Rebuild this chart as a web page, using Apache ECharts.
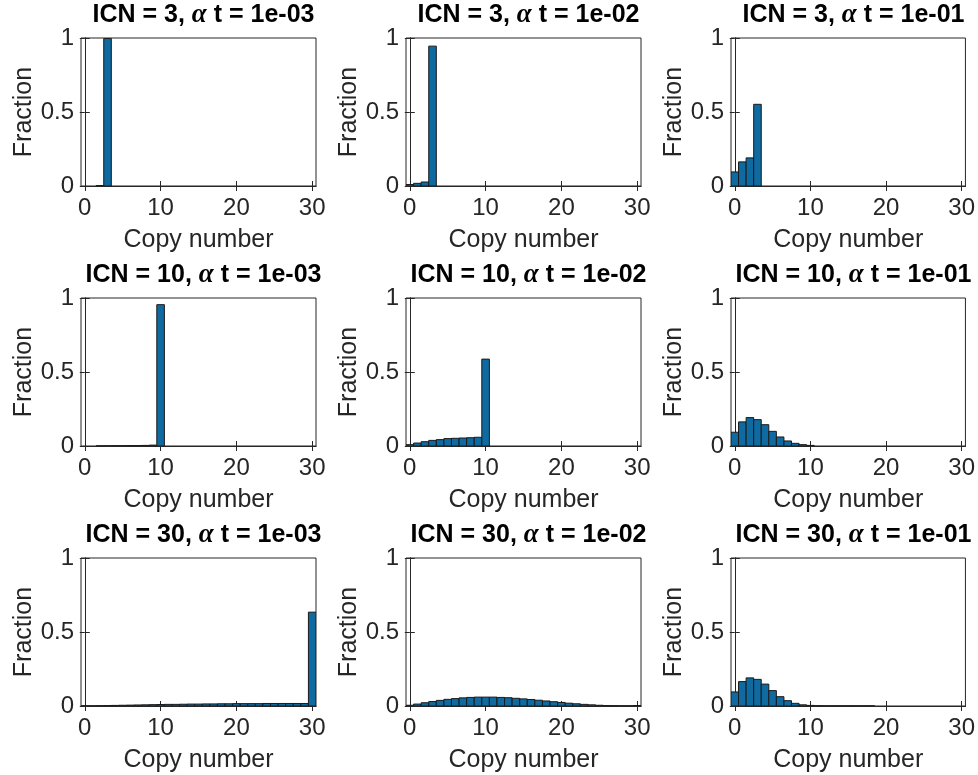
<!DOCTYPE html>
<html>
<head>
<meta charset="utf-8">
<script src="https://cdn.jsdelivr.net/npm/echarts@6/dist/echarts.min.js"></script>
<style>
  html, body { margin: 0; padding: 0; background: #fff; }
  #chart { width: 978px; height: 775px; }
</style>
</head>
<body>
<div id="chart"></div>
<script>
// copy number ticks and panel labels
const xTicks = [0, 10, 20, 30];
const yTicks = [0, 0.5, 1];
const icnValues = [3, 10, 30];
const alphaTLabels = ['1e-03', '1e-02', '1e-01'];

// fraction per copy number (index = copy number)
const icn3At3 = [0, 0, 0.003, 0.997];
const icn3At2 = [0.01, 0.018, 0.027, 0.945];
const icn3At1 = [0.095, 0.163, 0.19, 0.552];

const icn10At3 = [0, 0, 0.001, 0.001, 0.002, 0.002, 0.003, 0.003, 0.004, 0.006, 0.955];
const icn10At2 = [0.009, 0.02, 0.029, 0.038, 0.043, 0.05, 0.052, 0.054, 0.056, 0.059, 0.587];
const icn10At1 = [0.093, 0.163, 0.192, 0.178, 0.144, 0.099, 0.061, 0.034, 0.018, 0.009, 0.004];

const icn30At3 = [0.001, 0.001, 0.002, 0.003, 0.004, 0.005, 0.006, 0.007, 0.008, 0.009,
  0.01, 0.011, 0.011, 0.012, 0.013, 0.013, 0.014, 0.014, 0.015, 0.015,
  0.016, 0.016, 0.016, 0.016, 0.017, 0.017, 0.017, 0.017, 0.017, 0.017, 0.634];
const icn30At2 = [0.005, 0.013, 0.022, 0.03, 0.038, 0.045, 0.05, 0.055, 0.058, 0.06,
  0.06, 0.06, 0.058, 0.056, 0.052, 0.048, 0.044, 0.039, 0.034, 0.029,
  0.024, 0.019, 0.015, 0.011, 0.008, 0.005, 0.003, 0.002, 0.001, 0.001, 0.003];
const icn30At1 = [0.095, 0.165, 0.19, 0.18, 0.148, 0.104, 0.063, 0.036, 0.018, 0.008,
  0.004, 0.002, 0.001, 0.001, 0.001, 0.001, 0.001, 0.001, 0.001];

const panels = [
  [icn3At3, icn3At2, icn3At1],
  [icn10At3, icn10At2, icn10At1],
  [icn30At3, icn30At2, icn30At1]
];

const colLeft = [81, 406, 731];
const rowTop = [38, 298, 558];
const plotW = 235;
const plotH = 148;
const barColor = '#0e6aa0';
const axisColor = '#262626';
const font = 'Liberation Sans, Arial, sans-serif';

const grids = [];
const xAxes = [];
const yAxes = [];
const series = [];
const titles = [];

panels.forEach((row, r) => {
  row.forEach((values, c) => {
    const gi = grids.length;
    grids.push({
      left: colLeft[c], top: rowTop[r], width: plotW, height: plotH,
      show: true, borderColor: axisColor, borderWidth: 1, backgroundColor: '#fff'
    });

    const tickCommon = { show: true, inside: true, length: 5, lineStyle: { color: axisColor } };
    xAxes.push({
      type: 'value', gridIndex: gi, position: 'bottom', min: -0.5, max: 30.5,
      axisLine: { show: true, lineStyle: { color: axisColor } },
      axisTick: Object.assign({ customValues: xTicks }, tickCommon),
      axisLabel: { customValues: xTicks, color: axisColor, fontSize: 24, fontFamily: font, margin: 10 },
      splitLine: { show: false },
      name: 'Copy number', nameLocation: 'middle', nameGap: 42,
      nameTextStyle: { color: axisColor, fontSize: 25, fontFamily: font }
    });
    xAxes.push({
      type: 'value', gridIndex: gi, position: 'top', min: -0.5, max: 30.5,
      axisLine: { show: true, lineStyle: { color: axisColor } },
      axisTick: Object.assign({ customValues: xTicks }, tickCommon),
      axisLabel: { show: false }, splitLine: { show: false }
    });
    yAxes.push({
      type: 'value', gridIndex: gi, position: 'left', min: 0, max: 1, interval: 0.5,
      axisLine: { show: true, lineStyle: { color: axisColor } },
      axisTick: tickCommon,
      axisLabel: { color: axisColor, fontSize: 24, fontFamily: font, margin: 7 },
      splitLine: { show: false },
      name: 'Fraction', nameLocation: 'middle', nameGap: 42, nameRotate: 90,
      nameTextStyle: { color: axisColor, fontSize: 25, fontFamily: font }
    });
    yAxes.push({
      type: 'value', gridIndex: gi, position: 'right', min: 0, max: 1, interval: 0.5,
      axisLine: { show: true, lineStyle: { color: axisColor } },
      axisTick: tickCommon,
      axisLabel: { show: false }, splitLine: { show: false }
    });

    series.push({
      type: 'custom',
      xAxisIndex: gi * 2,
      yAxisIndex: gi * 2,
      data: values.map((v, i) => [i, v]),
      clip: true,
      renderItem(params, api) {
        const x = api.value(0);
        const y = api.value(1);
        if (y <= 0) return null;
        const p1 = api.coord([x - 0.5, y]);
        const p2 = api.coord([x + 0.5, 0]);
        return {
          type: 'rect',
          shape: { x: p1[0], y: p1[1], width: p2[0] - p1[0], height: p2[1] - p1[1] },
          style: { fill: barColor, stroke: '#1a1a1a', lineWidth: 1 }
        };
      }
    });

    titles.push({
      text: '{b|ICN = ' + icnValues[r] + ', }{a|\u03b1}{b| t = ' + alphaTLabels[c] + '}',
      left: colLeft[c] + plotW / 2,
      top: rowTop[r] - 41,
      textAlign: 'center',
      textStyle: {
        rich: {
          b: { fontSize: 25, fontWeight: 'bold', fontFamily: font, color: '#000' },
          a: { fontSize: 27, fontStyle: 'italic', fontFamily: 'Liberation Serif, serif', color: '#000' }
        }
      }
    });
  });
});

const chart = echarts.init(document.getElementById('chart'));
chart.setOption({
  animation: false,
  backgroundColor: '#fff',
  title: titles,
  grid: grids,
  xAxis: xAxes,
  yAxis: yAxes,
  series: series
});
</script>
</body>
</html>
